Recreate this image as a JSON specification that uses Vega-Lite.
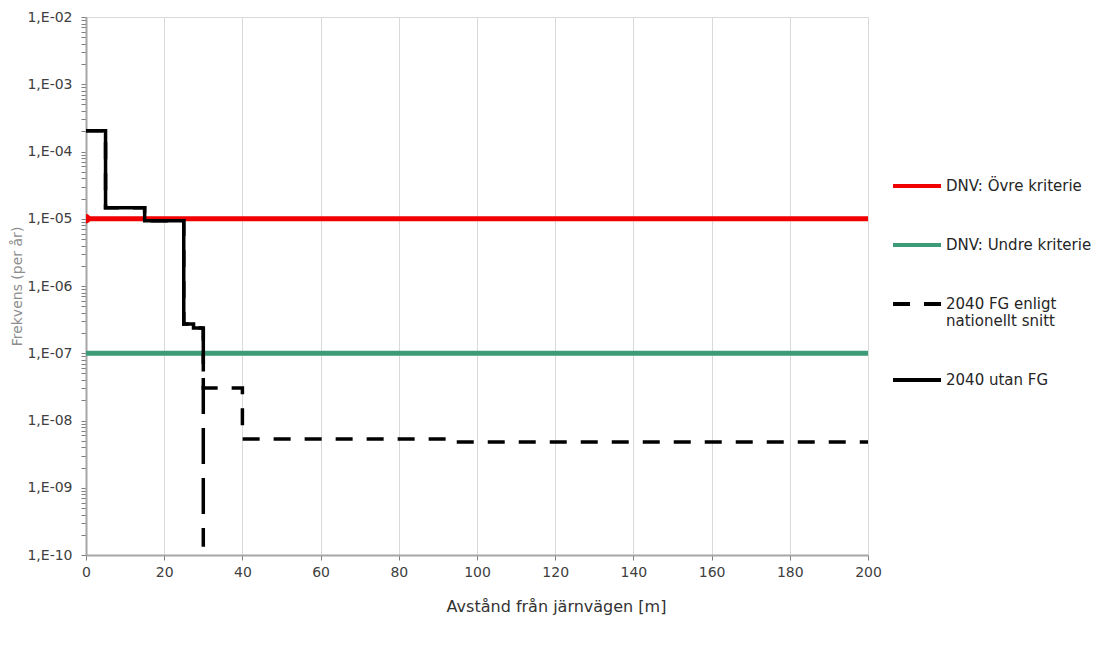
{
  "$schema": "https://vega.github.io/schema/vega-lite/v6.json",
  "autosize": {"type": "none"},
  "padding": {"left": 86, "top": 17, "right": 232, "bottom": 90},
  "width": 782,
  "height": 538,
  "background": "white",
  "config": {
    "font": "DejaVu Sans",
    "view": {"stroke": "#d9d9d9", "strokeWidth": 1}
  },
  "data": {
    "values": [
      {"s": "DNV: Övre kriterie", "x": 0, "y": 1e-5, "i": 0},
      {"s": "DNV: Övre kriterie", "x": 200, "y": 1e-5, "i": 1},
      {"s": "DNV: Undre kriterie", "x": 0, "y": 1e-7, "i": 0},
      {"s": "DNV: Undre kriterie", "x": 200, "y": 1e-7, "i": 1},
      {"s": "2040 FG enligt nationellt snitt", "x": 0, "y": 2.04e-4, "i": 0},
      {"s": "2040 FG enligt nationellt snitt", "x": 5, "y": 2.04e-4, "i": 1},
      {"s": "2040 FG enligt nationellt snitt", "x": 5, "y": 1.46e-5, "i": 2},
      {"s": "2040 FG enligt nationellt snitt", "x": 15, "y": 1.46e-5, "i": 3},
      {"s": "2040 FG enligt nationellt snitt", "x": 15, "y": 9.3e-6, "i": 4},
      {"s": "2040 FG enligt nationellt snitt", "x": 25, "y": 9.3e-6, "i": 5},
      {"s": "2040 FG enligt nationellt snitt", "x": 25, "y": 2.72e-7, "i": 6},
      {"s": "2040 FG enligt nationellt snitt", "x": 27.5, "y": 2.72e-7, "i": 7},
      {"s": "2040 FG enligt nationellt snitt", "x": 27.5, "y": 2.37e-7, "i": 8},
      {"s": "2040 FG enligt nationellt snitt", "x": 30, "y": 2.37e-7, "i": 9},
      {"s": "2040 FG enligt nationellt snitt", "x": 30, "y": 3.04e-8, "i": 10},
      {"s": "2040 FG enligt nationellt snitt", "x": 40, "y": 3.04e-8, "i": 11},
      {"s": "2040 FG enligt nationellt snitt", "x": 40, "y": 5.3e-9, "i": 12},
      {"s": "2040 FG enligt nationellt snitt", "x": 92, "y": 5.3e-9, "i": 13},
      {"s": "2040 FG enligt nationellt snitt", "x": 92, "y": 4.8e-9, "i": 14},
      {"s": "2040 FG enligt nationellt snitt", "x": 200, "y": 4.8e-9, "i": 15},
      {"s": "2040 utan FG", "x": 0, "y": 2.04e-4, "i": 0},
      {"s": "2040 utan FG", "x": 5, "y": 2.04e-4, "i": 1},
      {"s": "2040 utan FG", "x": 5, "y": 1.46e-5, "i": 2},
      {"s": "2040 utan FG", "x": 15, "y": 1.46e-5, "i": 3},
      {"s": "2040 utan FG", "x": 15, "y": 9.3e-6, "i": 4},
      {"s": "2040 utan FG", "x": 25, "y": 9.3e-6, "i": 5},
      {"s": "2040 utan FG", "x": 25, "y": 2.72e-7, "i": 6},
      {"s": "2040 utan FG", "x": 27.5, "y": 2.72e-7, "i": 7},
      {"s": "2040 utan FG", "x": 27.5, "y": 2.37e-7, "i": 8},
      {"s": "2040 utan FG", "x": 30, "y": 2.37e-7, "i": 9},
      {"s": "2040 utan FG fall", "x": 30, "y": 2.37e-7, "i": 0},
      {"s": "2040 utan FG fall", "x": 30, "y": 1.33e-10, "i": 1}
    ]
  },
  "encoding": {
    "x": {
      "field": "x", "type": "quantitative",
      "scale": {"domain": [0, 200], "nice": false, "zero": false},
      "axis": {
        "values": [0, 20, 40, 60, 80, 100, 120, 140, 160, 180, 200],
        "grid": true, "gridColor": "#d9d9d9", "gridWidth": 1,
        "domainColor": "#a6a6a6", "domainWidth": 2,
        "tickColor": "#7f7f7f", "tickSize": 5,
        "labelFont": "DejaVu Sans", "labelFontSize": 14, "labelColor": "#404040",
        "labelPadding": 5, "labelFlush": false,
        "title": "Avstånd från järnvägen [m]",
        "titleFont": "DejaVu Sans", "titleFontSize": 16, "titleFontWeight": "normal",
        "titleColor": "#333333", "titleX": 470, "titleY": 51, "titleBaseline": "middle"
      }
    },
    "y": {
      "field": "y", "type": "quantitative",
      "scale": {"type": "log", "domain": [1e-10, 1e-2], "nice": false},
      "axis": {
        "values": [1e-10,2e-10,3e-10,4e-10,5e-10,6e-10,7e-10,8e-10,9e-10,
                   1e-9,2e-9,3e-9,4e-9,5e-9,6e-9,7e-9,8e-9,9e-9,
                   1e-8,2e-8,3e-8,4e-8,5e-8,6e-8,7e-8,8e-8,9e-8,
                   1e-7,2e-7,3e-7,4e-7,5e-7,6e-7,7e-7,8e-7,9e-7,
                   1e-6,2e-6,3e-6,4e-6,5e-6,6e-6,7e-6,8e-6,9e-6,
                   1e-5,2e-5,3e-5,4e-5,5e-5,6e-5,7e-5,8e-5,9e-5,
                   1e-4,2e-4,3e-4,4e-4,5e-4,6e-4,7e-4,8e-4,9e-4,
                   1e-3,2e-3,3e-3,4e-3,5e-3,6e-3,7e-3,8e-3,9e-3,1e-2],
        "labelExpr": "abs(log(datum.value)/LN10 - round(log(datum.value)/LN10)) < 0.01 ? '1,E-' + (round(-log(datum.value)/LN10) < 10 ? '0' : '') + round(-log(datum.value)/LN10) : ''",
        "labelOverlap": false, "labelFlush": false,
        "grid": false,
        "domainColor": "#a6a6a6", "domainWidth": 2,
        "tickColor": "#7f7f7f", "tickSize": 5,
        "labelFont": "DejaVu Sans", "labelFontSize": 14, "labelColor": "#404040",
        "labelPadding": 9,
        "title": "Frekvens (per år)",
        "titleFont": "DejaVu Sans", "titleFontSize": 14, "titleFontWeight": "normal",
        "titleColor": "#8c8c8c", "titlePadding": 2
      }
    },
    "order": {"field": "i", "type": "quantitative"}
  },
  "layer": [
    {
      "transform": [{"filter": "datum.s == 'DNV: Övre kriterie' || datum.s == 'DNV: Undre kriterie'"}],
      "mark": {"type": "line", "strokeWidth": 5, "clip": true},
      "encoding": {
        "color": {
          "field": "s", "type": "nominal",
          "scale": {
            "domain": ["DNV: Övre kriterie", "DNV: Undre kriterie", "2040 FG enligt nationellt snitt", "2040 utan FG"],
            "range": ["#f00000", "#3d9b78", "#000000", "#000000"]
          },
          "legend": {
            "orient": "none", "legendX": 805, "legendY": 143,
            "title": null, "padding": 0,
            "symbolType": "stroke", "symbolSize": 2304, "symbolStrokeWidth": 4,
            "rowPadding": 25, "labelOffset": 3, "labelLimit": 250,
            "labelFont": "DejaVu Sans", "labelFontSize": 15, "labelColor": "#262626",
            "labelExpr": "datum.label == '2040 FG enligt nationellt snitt' ? ['2040 FG enligt', 'nationellt snitt'] : datum.label"
          }
        },
        "strokeDash": {
          "field": "s", "type": "nominal",
          "scale": {
            "domain": ["DNV: Övre kriterie", "DNV: Undre kriterie", "2040 FG enligt nationellt snitt", "2040 utan FG"],
            "range": [[1, 0], [1, 0], [17, 14], [1, 0]]
          },
          "legend": {
            "orient": "none", "legendX": 805, "legendY": 143,
            "title": null, "padding": 0,
            "symbolType": "stroke", "symbolSize": 2304, "symbolStrokeWidth": 4,
            "rowPadding": 25, "labelOffset": 3, "labelLimit": 250,
            "labelFont": "DejaVu Sans", "labelFontSize": 15, "labelColor": "#262626",
            "labelExpr": "datum.label == '2040 FG enligt nationellt snitt' ? ['2040 FG enligt', 'nationellt snitt'] : datum.label"
          }
        }
      }
    },
    {
      "transform": [{"filter": "datum.s == 'DNV: Övre kriterie' && datum.x == 0"}],
      "mark": {"type": "point", "shape": "circle", "filled": true, "size": 90, "color": "#f00000", "opacity": 1, "clip": true}
    },
    {
      "transform": [{"filter": "datum.s == '2040 FG enligt nationellt snitt' || datum.s == '2040 utan FG'"}],
      "mark": {"type": "line", "strokeWidth": 3.5, "clip": true},
      "encoding": {
        "color": {"field": "s", "type": "nominal"},
        "strokeDash": {"field": "s", "type": "nominal"}
      }
    },
    {
      "transform": [{"filter": "datum.s == '2040 utan FG fall'"}],
      "mark": {"type": "line", "strokeWidth": 3.5, "color": "#000000", "strokeDash": [36, 14], "clip": true},
      "encoding": {}
    }
  ]
}
